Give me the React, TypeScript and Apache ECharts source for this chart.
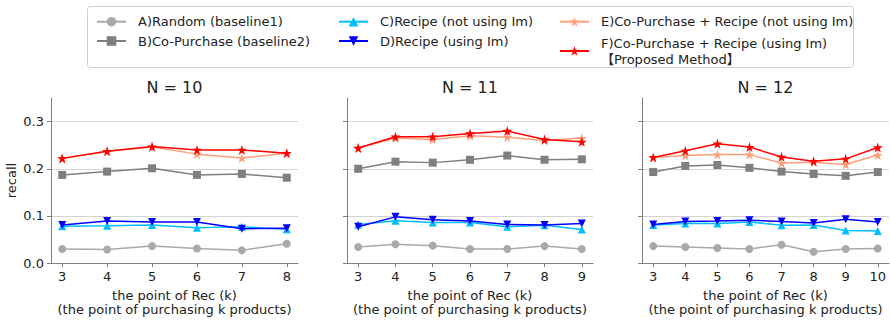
import React, { useEffect, useRef } from "react";
import * as echarts from "echarts";

const kN10 = [3, 4, 5, 6, 7, 8];
const kN11 = [3, 4, 5, 6, 7, 8, 9];
const kN12 = [3, 4, 5, 6, 7, 8, 9, 10];

const A10 = [0.030, 0.029, 0.036, 0.031, 0.027, 0.041];
const B10 = [0.187, 0.194, 0.201, 0.187, 0.189, 0.181];
const C10 = [0.078, 0.079, 0.081, 0.075, 0.077, 0.072];
const D10 = [0.081, 0.089, 0.087, 0.087, 0.073, 0.074];
const E10 = [0.222, 0.237, 0.246, 0.231, 0.223, 0.233];
const F10 = [0.222, 0.237, 0.247, 0.240, 0.240, 0.233];

const A11 = [0.034, 0.040, 0.037, 0.030, 0.030, 0.036, 0.030];
const B11 = [0.200, 0.215, 0.213, 0.219, 0.228, 0.219, 0.220];
const C11 = [0.082, 0.090, 0.086, 0.086, 0.077, 0.080, 0.071];
const D11 = [0.077, 0.098, 0.092, 0.089, 0.082, 0.081, 0.084];
const E11 = [0.244, 0.265, 0.262, 0.270, 0.267, 0.260, 0.265];
const F11 = [0.244, 0.268, 0.268, 0.275, 0.280, 0.262, 0.257];

const A12 = [0.036, 0.034, 0.032, 0.030, 0.039, 0.024, 0.030, 0.031];
const B12 = [0.193, 0.206, 0.208, 0.202, 0.194, 0.189, 0.185, 0.193];
const C12 = [0.081, 0.084, 0.084, 0.087, 0.080, 0.081, 0.069, 0.068];
const D12 = [0.082, 0.088, 0.089, 0.091, 0.088, 0.085, 0.093, 0.087];
const E12 = [0.224, 0.228, 0.230, 0.230, 0.212, 0.214, 0.209, 0.229];
const F12 = [0.224, 0.238, 0.253, 0.246, 0.225, 0.216, 0.221, 0.245];

const yTicks = [0, 0.1, 0.2, 0.3];
const panelTitles = ["N = 10", "N = 11", "N = 12"];

const seriesNames = [
  "A)Random (baseline1)",
  "B)Co-Purchase (baseline2)",
  "C)Recipe (not using Im)",
  "D)Recipe (using Im)",
  "E)Co-Purchase + Recipe (not using Im)",
  "F)Co-Purchase + Recipe (using Im)\n【Proposed Method】",
];

const FONT = "'DejaVu Sans', 'Noto Sans CJK JP', sans-serif";
const STAR =
  "path://M0,-1 L0.2245,-0.309 L0.951,-0.309 L0.363,0.118 L0.588,0.809 L0,0.382 L-0.588,0.809 L-0.363,0.118 L-0.951,-0.309 L-0.2245,-0.309 Z";

const styles = [
  { color: "#a9a9a9", symbol: "circle", size: 8, rotate: 0 },
  { color: "#7f7f7f", symbol: "rect", size: 8, rotate: 0 },
  { color: "#00bfff", symbol: "triangle", size: 8, rotate: 0 },
  { color: "#0000ff", symbol: "triangle", size: 8, rotate: 180 },
  { color: "#ffa07a", symbol: STAR, size: 10, rotate: 0 },
  { color: "#ff0000", symbol: STAR, size: 10, rotate: 0 },
];

const panels = [
  { k: kN10, vals: [A10, B10, C10, D10, E10, F10], left: 51, width: 247 },
  { k: kN11, vals: [A11, B11, C11, D11, E11, F11], left: 347, width: 246 },
  { k: kN12, vals: [A12, B12, C12, D12, E12, F12], left: 642, width: 247 },
];

export default function App() {
  const ref = useRef<HTMLDivElement>(null);
  useEffect(() => {
    if (!ref.current) return;
    const chart = echarts.init(ref.current, undefined, { renderer: "svg" });
    const top = 98;
    const height = 166;
    const axisColor = "#808080";

    const grids = panels.map((p) => ({ left: p.left, top, width: p.width, height }));
    const xAxes = panels.map((p, i) => {
      const lo = p.k[0];
      const hi = p.k[p.k.length - 1];
      const m = (hi - lo) * 0.05;
      return {
        type: "value",
        gridIndex: i,
        min: lo - m,
        max: hi + m,
        splitLine: { show: false },
        axisLine: { show: true, onZero: false, lineStyle: { color: axisColor, width: 1 } },
        axisTick: { show: true, customValues: p.k, length: 4, lineStyle: { color: axisColor } },
        axisLabel: {
          customValues: p.k,
          color: "#222",
          fontSize: 13,
          fontFamily: FONT,
          margin: 7,
        },
        name: "the point of Rec (k)\n(the point of purchasing k products)",
        nameLocation: "middle",
        nameGap: 23,
        nameTextStyle: { color: "#222", fontSize: 13, fontFamily: FONT, lineHeight: 14.5, verticalAlign: "top" },
      };
    });
    const yAxes = panels.map((p, i) => ({
      type: "value",
      gridIndex: i,
      min: 0,
      max: 0.35,
      axisLine: { show: true, lineStyle: { color: axisColor, width: 1 } },
      axisTick: { show: true, customValues: yTicks, length: 4, lineStyle: { color: axisColor } },
      axisLabel: {
        show: i === 0,
        customValues: yTicks,
        formatter: (v: number) => v.toFixed(1),
        color: "#222",
        fontSize: 13,
        fontFamily: FONT,
        margin: 7,
      },
      splitLine: { show: true, lineStyle: { color: "#d3d3d3", width: 1 } },
      name: i === 0 ? "recall" : "",
      nameLocation: "middle",
      nameGap: 33,
      nameTextStyle: { color: "#222", fontSize: 13, fontFamily: FONT },
    }));

    const series: any[] = [];
    panels.forEach((p, pi) => {
      p.vals.forEach((vals, si) => {
        const st = styles[si];
        series.push({
          type: "line",
          name: seriesNames[si],
          xAxisIndex: pi,
          yAxisIndex: pi,
          data: p.k.map((k, j) => [k, vals[j]]),
          symbol: st.symbol,
          symbolSize: st.size,
          symbolRotate: st.rotate,
          showAllSymbol: true,
          lineStyle: { color: st.color, width: 1.5 },
          itemStyle: { color: st.color },
          emphasis: { disabled: true },
          z: 2 + si,
        });
      });
    });

    const legendBase = {
      orient: "vertical",
      itemWidth: 29,
      itemHeight: 12,
      selectedMode: false,
      textStyle: { fontSize: 13, fontFamily: FONT, color: "#222", lineHeight: 16, padding: [0, 0, 0, 7] },
    };

    chart.setOption({
      animation: false,
      backgroundColor: "#ffffff",
      grid: grids,
      xAxis: xAxes,
      yAxis: yAxes,
      series,
      legend: [
        { ...legendBase, left: 91, top: 8.7, itemGap: 3.3, data: [seriesNames[0], seriesNames[1]] },
        { ...legendBase, left: 333, top: 8.7, itemGap: 3.3, data: [seriesNames[2], seriesNames[3]] },
        { ...legendBase, left: 554, top: 8.7, itemGap: 5.3, data: [seriesNames[4], seriesNames[5]] },
      ],
      graphic: [
        {
          type: "rect",
          shape: { x: 87.5, y: 6.5, width: 766, height: 61, r: 3 },
          style: { fill: "#ffffff", stroke: "#d0d0d0", lineWidth: 1 },
          z: -10,
          silent: true,
        },
        ...panels.map((p, i) => ({
          type: "text",
          x: p.left + p.width / 2,
          y: 87,
          style: {
            text: panelTitles[i],
            textAlign: "center",
            textVerticalAlign: "middle",
            fontSize: 16,
            fontFamily: FONT,
            fill: "#222",
          },
          silent: true,
        })),
      ],
    });
    return () => chart.dispose();
  }, []);
  return (
    <div
      ref={ref}
      style={{ position: "fixed", left: 0, top: 0, width: 890, height: 322, background: "#fff" }}
    />
  );
}
